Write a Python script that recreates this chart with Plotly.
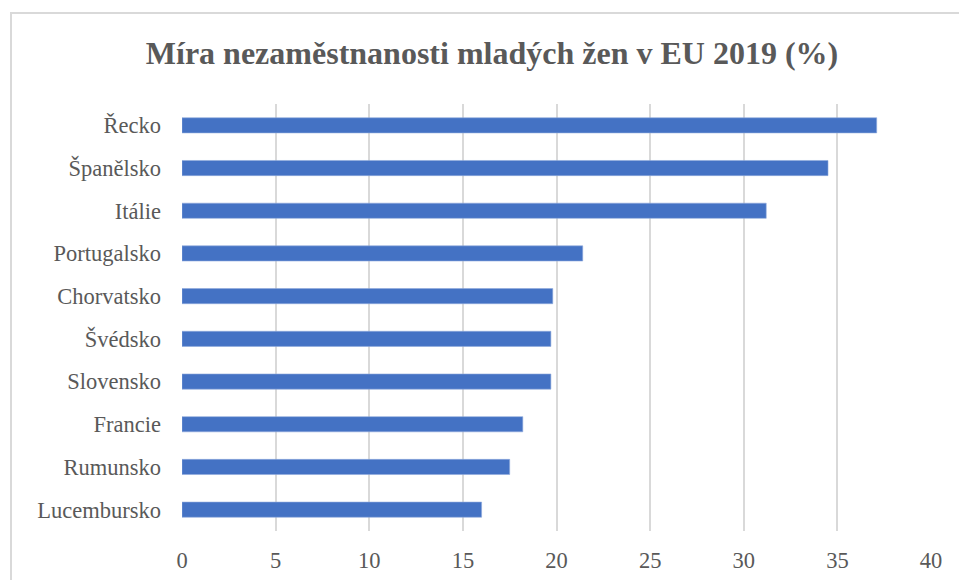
import plotly.graph_objects as go

countries = ["Řecko", "Španělsko", "Itálie", "Portugalsko", "Chorvatsko",
             "Švédsko", "Slovensko", "Francie", "Rumunsko", "Lucembursko"]
values = [37.1, 34.5, 31.2, 21.4, 19.8, 19.7, 19.7, 18.2, 17.5, 16.0]
x_ticks = [0, 5, 10, 15, 20, 25, 30, 35, 40]
title_text = "Míra nezaměstnanosti mladých žen v EU 2019 (%)"

W, H = 959, 580
L, R, T, B = 182, 28, 104, 49

fig = go.Figure(go.Bar(
    x=values, y=countries, orientation="h",
    marker=dict(color="#4472C4", line=dict(color="#8FAADC", width=0.6)),
    width=0.355,
))

pw = W - L - R
ph = H - T - B

fig.update_layout(
    width=W, height=H,
    paper_bgcolor="white", plot_bgcolor="white",
    margin=dict(l=L, r=R, t=T, b=B, pad=0),
    showlegend=False,
    title=dict(text="<b>" + title_text + "</b>", x=492 / W, xanchor="center",
               y=1 - 53 / H, yanchor="middle",
               font=dict(family="Liberation Serif", size=32, color="#595959")),
    font=dict(family="Liberation Serif", color="#595959"),
    shapes=[dict(type="rect", xref="paper", yref="paper",
                 x0=(11 - L) / pw, x1=(975 - L) / pw,
                 y0=(H - B - 600) / ph, y1=(H - B - 13) / ph,
                 line=dict(color="#D9D9D9", width=2), layer="below")],
)
fig.update_xaxes(range=[0, 40], tickvals=x_ticks, showgrid=True,
                 gridcolor="#D9D9D9", gridwidth=2, zeroline=False,
                 showline=False, ticks="", automargin=False,
                 tickfont=dict(size=22.5, color="#595959"),
                 ticklabelstandoff=13)
fig.update_yaxes(autorange="reversed", showgrid=False, ticks="", automargin=False,
                 tickfont=dict(size=22.5, color="#595959"), ticklabelstandoff=20)

fig.write_html("out.html", config={"displayModeBar": False},
               post_script="document.body.style.margin='0px';")
